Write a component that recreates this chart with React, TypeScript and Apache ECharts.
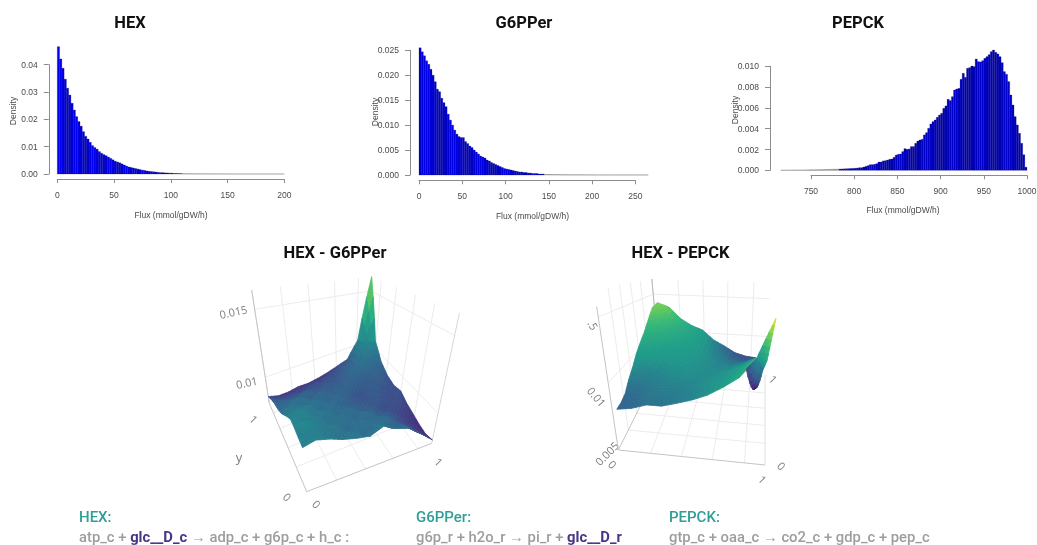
import React, { useEffect, useRef } from "react";
import * as echarts from "echarts";

// ---------- histogram data ----------
const hexBinStart = 0;
const hexBinWidth = 2;
const hexDensity = [
  .0466,.0421,.0387,.0347,.0314,.0289,.0259,.0234,.0210,.0192,.0175,.0155,.0138,.0128,.0116,.0104,.0097,.0091,.0082,.0076,
  .0071,.0067,.0062,.0057,.0052,.0047,.0044,.0041,.0037,.0033,.0029,.0026,.0024,.0022,.0020,.0018,.0016,.0014,.0013,.0011,
  .0010,.0009,.0008,.0007,.0006,.0005,.0005,.0004,.0004,.0003,.0003,.0002,.0002,.00015,.00015,.0001,.0001,.00008,.00008,.00006,
  .00006,.00005,.00005,.00004,.00004,.00004,.00003,.00003,.00003,.00003,.00002,.00002,.00002,.00002,.00002,.00002,.00001,.00001,.00001,.00001,
  .00001,.00001,.00001,.00001,.00001,.00001,.00001,.00001,.00001,.00001,.00001,.00001,.00001,.00001,.00001,.00001,.00001,.00001,.00001,.00001,
];
const g6pperBinStart = 0;
const g6pperBinWidth = 2.5;
const g6pperDensity = [
  .0255,.0247,.0239,.0229,.0222,.0212,.0200,.0187,.0172,.0167,.0154,.0145,.0137,.0122,.0110,.0100,.0090,.0082,.0077,.0075,
  .0075,.0067,.0063,.0058,.0055,.0050,.0046,.0042,.0038,.0036,.0034,.0030,.0028,.0025,.0023,.0021,.0019,.0017,.0015,.0013,
  .0012,.0011,.0010,.0009,.0008,.0007,.0006,.0006,.0005,.0005,.0004,.0004,.0003,.0003,.0003,.0002,.0002,.0002,.0001,.0001,
  .0001,.00008,.00008,.00007,.00006,.00006,.00005,.00005,.00004,.00004,.00004,.00003,.00003,.00003,.00003,.00002,.00002,.00002,.00002,.00002,
  .00002,.00001,.00001,.00001,.00001,.00001,.00001,.00001,.00001,.00001,.00001,.00001,.00001,.00001,.00001,.00001,.00001,.00001,.00001,.00001,
  .00001,.00001,.00001,.00001,.00001,.00001,
];
const pepckBinStart = 715;
const pepckBinWidth = 2.5;
const pepckDensity = [
  .00001,.00001,.00001,.00001,.00001,.00002,.00002,.00002,.00002,.00002,.00003,.00003,.00003,.00004,.00004,.00004,.00005,.00005,.00006,.00006,
  .00007,.00008,.00008,.00009,.0001,.0001,.00011,.00012,.00013,.00014,.00015,.00016,.00017,.00018,
  .0002,.00022,.00025,.00025,.00032,.00038,.00045,.00054,.00054,.00058,.00064,.0008,.0008,.0009,.00093,.00099,.00106,.00109,.00125,.00147,
  .00154,.00157,.0018,.00208,.00202,.00205,.00228,.00228,.0026,.00282,.00292,.00298,.0034,.00362,.00404,.00445,.00468,.00484,.0051,.00532,
  .00548,.00596,.00619,.00683,.0067,.00708,.00772,.00782,.00788,.00875,.00933,.00894,.00981,.00987,.01003,.00997,.0107,.01045,.01042,.01054,
  .01077,.01093,.01112,.01141,.01157,.01135,.01119,.01093,.01035,.00949,.00923,.00853,.00724,.00628,.00516,.00436,.00356,.0026,.0015,.0003,
];

// ---------- surface data: height within the plot box, rows run along y, columns along x ----------
const hexG6pperXs = [0,.1,.2,.3,.4,.5,.6,.7,.8,.9,1];
const hexG6pperYs = [0,.1,.2,.3,.4,.5,.6,.7,.8,.9,1];
const hexG6pperHeights = [
  [.275,.298,.279,.25,.23,.217,.26,.212,.181,.107,.026],
  [.286,.27,.25,.21,.23,.17,.22,.16,.15,.07,.01],
  [.303,.33,.24,.25,.17,.21,.18,.19,.11,.06,.02],
  [.314,.28,.27,.19,.22,.16,.20,.13,.12,.06,.04],
  [.28,.31,.23,.24,.17,.20,.14,.13,.08,.09,.06],
  [.238,.24,.26,.18,.20,.14,.13,.11,.12,.08,.10],
  [.192,.23,.19,.21,.15,.18,.12,.09,.13,.11,.08],
  [.164,.17,.20,.14,.17,.13,.16,.14,.12,.15,.10],
  [.144,.14,.12,.15,.11,.13,.12,.16,.19,.17,.16],
  [.109,.08,.08,.07,.09,.08,.10,.13,.17,.32,.31],
  [.059,.03,.025,.035,.026,.034,.05,.076,.104,.28,1],
];
const hexPepckXs = [.03,.127,.224,.321,.418,.515,.612,.709,.806,.903];
const hexPepckYs = [0,.1,.2,.3,.4,.5,.6,.7,.8,.9,1];
const hexPepckHeights = [
  [.287,.303,.336,.337,.366,.398,.44,.503,.578,.714],
  [.29,.31,.35,.36,.37,.40,.43,.49,.56,.68],
  [.31,.33,.37,.38,.39,.41,.44,.47,.54,.65],
  [.37,.36,.38,.41,.42,.41,.43,.46,.52,.62],
  [.42,.40,.41,.43,.44,.42,.42,.45,.50,.57],
  [.49,.47,.45,.46,.45,.43,.41,.42,.46,.526],
  [.55,.54,.50,.48,.47,.44,.40,.39,.42,.48],
  [.61,.60,.56,.52,.49,.43,.38,.35,.37,.42],
  [.70,.67,.60,.55,.50,.42,.36,.31,.30,.35],
  [.80,.74,.64,.56,.51,.41,.34,.28,.25,.28],
  [.82,.77,.63,.55,.50,.386,.32,.246,.213,.20],
];
// the fold at the right-hand corner of the HEX - PEPCK surface: [x, y, height, colour value]
const foldT = [.903,0,.714,.42];
const foldS = [1,0,1,1];
const foldN2 = [.97,.1,.68,.55];
const foldN1 = [.95,.2,.57,.36];
const foldD = [.915,.85,0,0];
const foldE = [.846,0,.64,.22];
const hexPepckFold = [[foldT,foldS,foldN2],[foldT,foldN2,foldN1],[foldT,foldN1,foldD],[foldT,foldD,foldE]];
const viridis = ["#440154","#482878","#3e4989","#31688e","#26828e","#1f9e89","#35b779","#6ece58","#b5de2b","#fde725"];
const hexPepckColourHeights = [0,.3,.45,.6,.8,1];
const hexPepckColourStops = [0,.33,.52,.62,.78,.95];

// ---------- labels ----------
const sansFont = "Liberation Sans";
const roboto = "Roboto";
const plotlyFont = "Open Sans";
const histTitles = [["HEX",130,22],["G6PPer",524,22],["PEPCK",858,22]];
const surfaceTitles = [["HEX - G6PPer",335,252],["HEX - PEPCK",680.5,252]];
const fluxLabel = "Flux (mmol/gDW/h)";
const fluxLabelPositions = [[171,215],[532.5,215.5],[903,209.5]];
const densityPositions = [[12.7,111],[375,112],[735.3,110]];
const surfaceLabels: [string,number,number,number][] = [
  ["0.015",233.3,311.7,12],["0.01",246.7,382.3,12],["1",254,419,-45],["y",239,456.7,0],["0",287.3,496.7,-45],["0",316.7,504,-45],["1",439,461.7,-45],
  [".5",593.3,325,-60],["0.01",596.7,396.7,-50],["0.005",606.7,453.3,45],["0",612.7,464.3,-45],["1",762.7,479.3,-45],["0",781.7,465.7,-45],["1",773.3,379,-45],
];

type Vec = [number, number];
type Box = { base: Record<string, Vec>; top: Record<string, Vec> };
const bil = (c: Record<string, Vec>, x: number, y: number): Vec => {
  const f = (k: 0 | 1) => (1 - y) * ((1 - x) * c.F[k] + x * c.R[k]) + y * ((1 - x) * c.L[k] + x * c.B[k]);
  return [f(0), f(1)];
};
const project = (b: Box, x: number, y: number, z: number): Vec => {
  const p = bil(b.base, x, y), q = bil(b.top, x, y);
  return [p[0] + z * (q[0] - p[0]), p[1] + z * (q[1] - p[1])];
};
const hex2rgb = (h: string) => [1, 3, 5].map((i) => parseInt(h.slice(i, i + 2), 16));
const viridisAt = (t: number) => {
  const u = Math.max(0, Math.min(0.9999, t)) * (viridis.length - 1);
  const k = Math.floor(u), f = u - k;
  const a = hex2rgb(viridis[k]), b = hex2rgb(viridis[k + 1]);
  return `rgb(${a.map((v, i) => Math.round(v + f * (b[i] - v))).join(",")})`;
};
const stopsAt = (z: number) => {
  let k = 0;
  while (k < hexPepckColourHeights.length - 2 && z > hexPepckColourHeights[k + 1]) k++;
  const z0 = hexPepckColourHeights[k], z1 = hexPepckColourHeights[k + 1];
  return hexPepckColourStops[k] + ((z - z0) / (z1 - z0)) * (hexPepckColourStops[k + 1] - hexPepckColourStops[k]);
};

const hexG6pperBox: Box = {
  base: { F: [290, 695], R: [665, 550], L: [178, 430], B: [470, 300] },
  top: { F: [245, 215], R: [748, 160], L: [125, 90], B: [485, 50] },
};
const hexPepckBox: Box = {
  base: { F: [145, 510], R: [585, 555], L: [270, 260], B: [585, 285] },
  top: { F: [80, 80], R: [618, 115], L: [248, 25], B: [600, 38] },
};

function surfaceSeries(cfg: any) {
  const { index, box, xs, ys, heights, fold, colorOf, xGrid, yGrid, zGrid, walls, edges, lift } = cfg;
  return {
    type: "custom", coordinateSystem: "cartesian2d", xAxisIndex: index, yAxisIndex: index,
    clip: false, silent: true, data: [[0, 0]], encode: { x: 0, y: 1 }, z: 3,
    renderItem: (_: any, api: any) => {
      const pt = (x: number, y: number, z: number) => api.coord(project(box, x, y, z));
      const children: any[] = [];
      const seg = (a: number[], b: number[], stroke: string, lineWidth = 1) => {
        const p = pt(a[0], a[1], a[2]), q = pt(b[0], b[1], b[2]);
        children.push({ type: "line", shape: { x1: p[0], y1: p[1], x2: q[0], y2: q[1] }, style: { stroke, lineWidth } });
      };
      const gridC = "#ececec";
      for (const x of xGrid) seg([x, 0, 0], [x, 1, 0], gridC);
      for (const y of yGrid) seg([0, y, 0], [1, y, 0], gridC);
      for (const w of walls) {
        if (w === "y1") { for (const x of xGrid) seg([x, 1, 0], [x, 1, lift], gridC); for (const z of zGrid) seg([0, 1, z], [1, 1, z], gridC); seg([0, 1, lift], [0, 1, 0], "#e6e6e6"); }
        if (w === "x1") { for (const y of yGrid) seg([1, y, 0], [1, y, lift], gridC); for (const z of zGrid) seg([1, 0, z], [1, 1, z], gridC); seg([1, 1, 0], [1, 1, lift], gridC); }
        if (w === "x0") { for (const y of yGrid) seg([0, y, 0], [0, y, lift], gridC); for (const z of zGrid) seg([0, 0, z], [0, 1, z], gridC); }
      }
      for (const e of edges) seg(e[0], e[1], e[2], 1);
      const cells: { d: number; pts: number[][]; c: number }[] = [];
      const add = (poly: number[][]) => {
        const n = poly.length;
        const c = poly.reduce((s, v) => s + (v.length > 3 ? v[3] : v[2]), 0) / n;
        const d = poly.reduce((s, v) => s + bil(box.base, v[0], v[1])[1], 0) / n;
        cells.push({ d, c, pts: poly.map((v) => pt(v[0], v[1], v[2])) });
      };
      const N = 3;
      const at = (i: number, j: number, s: number, t: number) => {
        const a = heights[j][i], b = heights[j][i + 1], c = heights[j + 1][i], e = heights[j + 1][i + 1];
        return [
          xs[i] + s * (xs[i + 1] - xs[i]),
          ys[j] + t * (ys[j + 1] - ys[j]),
          (1 - t) * ((1 - s) * a + s * b) + t * ((1 - s) * c + s * e),
        ];
      };
      for (let j = 0; j < ys.length - 1; j++)
        for (let i = 0; i < xs.length - 1; i++)
          for (let t = 0; t < N; t++)
            for (let s = 0; s < N; s++)
              add([at(i, j, s / N, t / N), at(i, j, (s + 1) / N, t / N), at(i, j, (s + 1) / N, (t + 1) / N), at(i, j, s / N, (t + 1) / N)]);
      cells.sort((a, b) => a.d - b.d);
      if (fold) {
        const M = 6;
        for (const tr of fold) {
          const mix = (u: number, v: number) => [0, 1, 2, 3].map((k) => tr[0][k] + u * (tr[1][k] - tr[0][k]) + v * (tr[2][k] - tr[0][k]));
          for (let a = 0; a < M; a++)
            for (let b = 0; b < M - a; b++) {
              add([mix(a / M, b / M), mix((a + 1) / M, b / M), mix(a / M, (b + 1) / M)]);
              if (a + b < M - 1) add([mix((a + 1) / M, b / M), mix((a + 1) / M, (b + 1) / M), mix(a / M, (b + 1) / M)]);
            }
        }
      }
      for (const c of cells) {
        const col = colorOf(c.c);
        children.push({ type: "polygon", shape: { points: c.pts }, style: { fill: col, stroke: col, lineWidth: 0.8 } });
      }
      return { type: "group", children };
    },
  };
}

function histParts(i: number, cfg: any) {
  const { rect, xr, yr, xOffset, yOffset, data, start, width, fill, stroke, dec } = cfg;
  const axisColor = "#8c8c8c";
  const labelBase = { fontFamily: sansFont, fontSize: 8.5, color: "#4a4a4a", showMinLabel: true, showMaxLabel: true, hideOverlap: false };
  return {
    grid: { left: rect[0], top: rect[1], width: rect[2], height: rect[3], outerBoundsMode: "none", containLabel: false },
    xAxis: {
      gridIndex: i, type: "value", min: xr[0], max: xr[1], interval: xr[2], offset: xOffset, position: "bottom",
      axisLine: { show: true, onZero: false, lineStyle: { color: axisColor, width: 1 } },
      axisTick: { show: true, length: 4, lineStyle: { color: axisColor } },
      axisLabel: { ...labelBase, margin: 11, formatter: (v: number) => String(v) }, splitLine: { show: false },
    },
    yAxis: {
      gridIndex: i, type: "value", min: yr[0], max: yr[1], interval: yr[2], offset: yOffset, position: "left",
      axisLine: { show: true, onZero: false, lineStyle: { color: axisColor, width: 1 } },
      axisTick: { show: true, length: 5, lineStyle: { color: axisColor } },
      axisLabel: { ...labelBase, margin: 11, formatter: (v: number) => v.toFixed(dec) }, splitLine: { show: false },
    },
    series: {
      type: "custom", coordinateSystem: "cartesian2d", xAxisIndex: i, yAxisIndex: i, clip: false, silent: true,
      data: data.map((v: number, k: number) => [start + k * width, v]), encode: { x: 0, y: 1 },
      renderItem: (_: any, api: any) => {
        const x0 = api.value(0), y = api.value(1);
        const a = api.coord([x0, y]), b = api.coord([x0 + width, 0]);
        const faint = y < 0.00012;
        return {
          type: "rect", shape: { x: a[0], y: a[1], width: b[0] - a[0], height: b[1] - a[1] },
          style: { fill: faint ? "#8c8c8c" : fill, stroke: faint ? "#8c8c8c" : stroke, lineWidth: 0.45 },
        };
      },
    },
  };
}

const equation = (x: number, head: string, text: string, rich: any) => [
  { type: "text", x, y: 517, silent: true, style: { text: head, fontFamily: roboto, fontSize: 15, fontWeight: 500, fill: "#2f9e97", align: "left", verticalAlign: "middle" } },
  { type: "text", x, y: 537, silent: true, style: { text, fontFamily: roboto, fontSize: 14.8, fontWeight: 500, fill: "#9d9d9d", align: "left", verticalAlign: "middle", rich } },
];

export default function App() {
  const ref = useRef<HTMLDivElement>(null);
  useEffect(() => {
    if (!ref.current) return;
    const chart = echarts.init(ref.current, undefined, { renderer: "svg" });
    const hists = [
      histParts(0, { rect: [57.3, 64.7, 227, 109.3], xr: [0, 200, 50], yr: [0, 0.04, 0.01], xOffset: 5, yOffset: 8.5, data: hexDensity, start: hexBinStart, width: hexBinWidth, fill: "#0000f0", stroke: "rgba(0,0,50,0.5)", dec: 2 }),
      histParts(1, { rect: [419, 50.3, 216.3, 124.7], xr: [0, 250, 50], yr: [0, 0.025, 0.005], xOffset: 5.3, yOffset: 9, data: g6pperDensity, start: g6pperBinStart, width: g6pperBinWidth, fill: "#0000e8", stroke: "rgba(0,0,50,0.5)", dec: 3 }),
      histParts(2, { rect: [811, 66.3, 216, 104], xr: [750, 1000, 50], yr: [0, 0.01, 0.002], xOffset: 5, yOffset: 41, data: pepckDensity, start: pepckBinStart, width: pepckBinWidth, fill: "#0000cc", stroke: "rgba(0,0,50,0.45)", dec: 3 }),
    ];
    const hiddenAxis = (gridIndex: number, max: number, inverse: boolean) => ({ gridIndex, type: "value", min: 0, max, show: false, inverse });
    const colorA = (z: number) => viridisAt(Math.pow(z, 0.5) * 0.82);
    const colorB = (z: number) => viridisAt(stopsAt(z));
    const axisEdge = "#c4c4c4";
    const option: any = {
      animation: false,
      backgroundColor: "#ffffff",
      grid: [
        ...hists.map((h) => h.grid),
        { left: 210, top: 260, width: 260, height: 250, outerBoundsMode: "none" },
        { left: 570, top: 280, width: 220, height: 220, outerBoundsMode: "none" },
      ],
      xAxis: [...hists.map((h) => h.xAxis), hiddenAxis(3, 780, false), hiddenAxis(4, 660, false)],
      yAxis: [...hists.map((h) => h.yAxis), hiddenAxis(3, 750, true), hiddenAxis(4, 660, true)],
      series: [
        ...hists.map((h) => h.series),
        surfaceSeries({
          index: 3, box: hexG6pperBox, xs: hexG6pperXs, ys: hexG6pperYs, heights: hexG6pperHeights, colorOf: colorA,
          xGrid: [.24,.47,.69,.89], yGrid: [.28,.5,.715,.89], zGrid: [.23,.83], walls: ["y1", "x1"], lift: 1,
          edges: [[[0,1,0],[0,0,0],axisEdge],[[0,0,0],[1,0,0],axisEdge],[[0,1,0],[0,1,1],axisEdge],[[1,0,0],[1,0,1],"#d8d8d8"]],
        }),
        surfaceSeries({
          index: 4, box: hexPepckBox, xs: hexPepckXs, ys: hexPepckYs, heights: hexPepckHeights, fold: hexPepckFold, colorOf: colorB,
          xGrid: [.22,.43,.64,.86], yGrid: [.24,.44,.63,.80], zGrid: [.468,.927], walls: ["x0", "y1"], lift: 1.12,
          edges: [[[0,1,0],[0,0,0],axisEdge],[[0,0,0],[1,0,0],axisEdge],[[0,0,0],[0,0,1],axisEdge],[[1,0,0],[1,1,0],"#e0e0e0"],[[0,1,.7],[0,1,1.12],"#b8b8b8"]],
        }),
      ],
      graphic: [
        ...[...histTitles, ...surfaceTitles].map(([t, x, y]) => ({
          type: "text", x, y, silent: true,
          style: { text: t, fontFamily: roboto, fontSize: 16.5, fontWeight: 700, fill: "#111111", align: "center", verticalAlign: "middle" },
        })),
        ...fluxLabelPositions.map(([x, y]) => ({
          type: "text", x, y, silent: true,
          style: { text: fluxLabel, fontFamily: sansFont, fontSize: 8.5, fill: "#4a4a4a", align: "center", verticalAlign: "middle" },
        })),
        ...densityPositions.map(([x, y]) => ({
          type: "text", x, y, rotation: Math.PI / 2, silent: true,
          style: { text: "Density", fontFamily: sansFont, fontSize: 8.5, fill: "#4a4a4a", align: "center", verticalAlign: "middle" },
        })),
        ...surfaceLabels.map(([t, x, y, r]) => ({
          type: "text", x, y, rotation: (r * Math.PI) / 180, silent: true,
          style: { text: t, fontFamily: plotlyFont, fontSize: t === "y" ? 13 : 11, fill: "#7d7d7d", align: "center", verticalAlign: "middle" },
        })),
        ...equation(79, "HEX:", "atp_c + {p|glc__D_c} → adp_c + g6p_c + h_c :", { p: { fill: "#4a3585", fontFamily: roboto, fontSize: 14.8, fontWeight: 700 } }),
        ...equation(416, "G6PPer:", "g6p_r + h2o_r → pi_r + {p|glc__D_r}", { p: { fill: "#4a3585", fontFamily: roboto, fontSize: 14.8, fontWeight: 700 } }),
        ...equation(669, "PEPCK:", "gtp_c + oaa_c → co2_c + gdp_c + pep_c", {}),
      ],
    };
    chart.setOption(option);
    return () => chart.dispose();
  }, []);
  return <div ref={ref} style={{ position: "absolute", left: 0, top: 0, width: 1037, height: 545, background: "#fff", filter: "blur(0.35px)" }} />;
}
